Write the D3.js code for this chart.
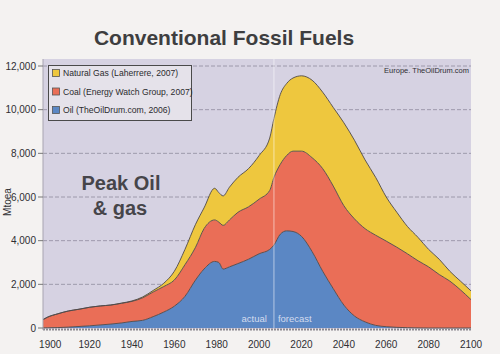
<!DOCTYPE html>
<html>
<head>
<meta charset="utf-8">
<script src="https://d3js.org/d3.v7.min.js"></script>
<style>
body { margin: 0; background: #f4f2f1; }
svg { display: block; font-family: "Liberation Sans", Arial, sans-serif; }
</style>
</head>
<body>
<script>
// values in Mtoe
var years = [1898, 1900, 1905, 1910, 1915, 1920, 1925, 1930, 1935, 1940, 1945, 1950, 1955, 1960, 1965, 1970, 1974, 1979, 1981, 1983, 1986, 1990, 1995, 2000, 2005, 2007, 2010, 2013, 2016, 2020, 2025, 2030, 2035, 2040, 2045, 2050, 2055, 2060, 2065, 2070, 2075, 2080, 2085, 2090, 2095, 2100];
var oil  = [5, 10, 20, 40, 70, 100, 140, 180, 230, 300, 350, 520, 730, 1000, 1450, 2200, 2700, 3050, 3000, 2700, 2800, 2950, 3150, 3400, 3600, 3800, 4300, 4450, 4420, 4200, 3500, 2600, 1800, 1050, 550, 280, 120, 60, 30, 15, 5, 0, 0, 0, 0, 0];
var coal = [380, 480, 630, 740, 790, 850, 870, 870, 900, 920, 1030, 1130, 1170, 1200, 1450, 1500, 1850, 1900, 1850, 2000, 2150, 2350, 2400, 2500, 2700, 3100, 3200, 3450, 3680, 3900, 4300, 4700, 4700, 4550, 4450, 4270, 4130, 3920, 3670, 3385, 3075, 2800, 2450, 2150, 1750, 1300];
var gas  = [0, 0, 0, 0, 0, 0, 0, 5, 10, 20, 40, 70, 150, 400, 700, 1050, 950, 1450, 1350, 1350, 1500, 1600, 1750, 2000, 2400, 2700, 3200, 3300, 3350, 3450, 3550, 3500, 3600, 3800, 3600, 3150, 2650, 2020, 1600, 1250, 1070, 800, 700, 450, 400, 400];

var seriesKeys = ["oil", "coal", "gas"];
var seriesColours = ["#5b87c4", "#ea6e57", "#eec73e"];
var legendLabels = ["Natural Gas (Laherrere, 2007)", "Coal (Energy Watch Group, 2007)", "Oil (TheOilDrum.com, 2006)"];
var legendColours = ["#eec73e", "#ea6e57", "#5b87c4"];

var yTicks = [0, 2000, 4000, 6000, 8000, 10000, 12000];
var xTicks = [1900, 1920, 1940, 1960, 1980, 2000, 2020, 2040, 2060, 2080, 2100];
var forecastYear = 2007;

function init(){
    var w = 500;
    var h = 354;

    var svg = d3.select("body")
                .append("svg")
                .attr("width", w)
                .attr("height", h);

    var x = d3.scaleLinear()
                .domain([1898, 2100])
                .range([43, 471]);

    var y = d3.scaleLinear()
                .domain([0, 12000])
                .range([328, 66]);

    // build rows for the stack
    var rows = years.map(function(yr, i){
        return {year: yr, oil: oil[i], coal: coal[i], gas: gas[i]};
    });

    var stacked = d3.stack().keys(seriesKeys)(rows);

    // title
    svg.append("text")
        .attr("x", 224)
        .attr("y", 45)
        .attr("text-anchor", "middle")
        .attr("font-size", 21)
        .attr("font-weight", "bold")
        .attr("fill", "#3e3e40")
        .text("Conventional Fossil Fuels");

    // plot background
    svg.append("rect")
        .attr("x", 43)
        .attr("y", 59)
        .attr("width", 428)
        .attr("height", 270)
        .attr("fill", "#d6d2e2");

    // dashed grid
    svg.selectAll(".grid")
        .data(yTicks.slice(1))
        .enter()
        .append("line")
        .attr("x1", 43)
        .attr("x2", 471)
        .attr("y1", function(d){ return y(d); })
        .attr("y2", function(d){ return y(d); })
        .attr("stroke", "#8f8b9e")
        .attr("stroke-width", 0.8)
        .attr("stroke-dasharray", "4,2");

    var area = d3.area()
                .x(function(d){ return x(d.data.year); })
                .y0(function(d){ return y(d[0]); })
                .y1(function(d){ return y(d[1]); })
                .curve(d3.curveMonotoneX);

    var topLine = d3.line()
                .x(function(d){ return x(d.data.year); })
                .y(function(d){ return y(d[1]); })
                .curve(d3.curveMonotoneX);

    svg.selectAll(".layer")
        .data(stacked)
        .enter()
        .append("path")
        .attr("d", area)
        .attr("fill", function(d, i){ return seriesColours[i]; });

    svg.selectAll(".edge")
        .data(stacked)
        .enter()
        .append("path")
        .attr("d", topLine)
        .attr("fill", "none")
        .attr("stroke", "#4f4a4a")
        .attr("stroke-width", 0.9);

    // actual / forecast divider
    svg.append("line")
        .attr("x1", x(forecastYear))
        .attr("x2", x(forecastYear))
        .attr("y1", 59)
        .attr("y2", 328)
        .attr("stroke", "#ffffff")
        .attr("stroke-opacity", 0.55)
        .attr("stroke-width", 1);

    svg.append("text")
        .attr("x", x(forecastYear) - 7)
        .attr("y", 322)
        .attr("text-anchor", "end")
        .attr("font-size", 9.5)
        .attr("fill", "#d3dcef")
        .text("actual");

    svg.append("text")
        .attr("x", x(forecastYear) + 4)
        .attr("y", 322)
        .attr("font-size", 9.5)
        .attr("fill", "#d3dcef")
        .text("forecast");

    // bottom axis line
    svg.append("line")
        .attr("x1", 43)
        .attr("x2", 471)
        .attr("y1", 329.5)
        .attr("y2", 329.5)
        .attr("stroke", "#8c8890")
        .attr("stroke-width", 2)
        .attr("stroke-dasharray", "2,1");

    svg.append("line")
        .attr("x1", 43)
        .attr("x2", 43)
        .attr("y1", 59)
        .attr("y2", 330)
        .attr("stroke", "#a8a4b0")
        .attr("stroke-width", 1);

    // y ticks and labels
    svg.selectAll(".ytick")
        .data(yTicks)
        .enter()
        .append("line")
        .attr("x1", 38)
        .attr("x2", 43)
        .attr("y1", function(d){ return y(d); })
        .attr("y2", function(d){ return y(d); })
        .attr("stroke", "#777");

    svg.selectAll(".ylabel")
        .data(yTicks)
        .enter()
        .append("text")
        .attr("x", 36)
        .attr("y", function(d){ return y(d) + 3.5; })
        .attr("text-anchor", "end")
        .attr("font-size", 10)
        .attr("fill", "#2f2f33")
        .text(function(d){ return d3.format(",")(d); });

    svg.selectAll(".xlabel")
        .data(xTicks)
        .enter()
        .append("text")
        .attr("x", function(d){ return x(d) + (d == 1900 ? 3 : 0); })
        .attr("y", 348)
        .attr("text-anchor", "middle")
        .attr("font-size", 10)
        .attr("fill", "#2f2f33")
        .text(function(d){ return d; });

    // y axis title
    svg.append("text")
        .attr("transform", "translate(11,202) rotate(-90)")
        .attr("text-anchor", "middle")
        .attr("font-size", 10)
        .attr("fill", "#2f2f33")
        .text("Mtoea");

    // legend
    var legend = svg.append("g");

    legend.append("rect")
        .attr("x", 48.5)
        .attr("y", 65.5)
        .attr("width", 143)
        .attr("height", 55)
        .attr("fill", "#e5e2ea")
        .attr("stroke", "#4a4a4a")
        .attr("stroke-width", 1);

    var items = legend.selectAll(".item")
        .data(legendLabels)
        .enter()
        .append("g")
        .attr("transform", function(d, i){ return "translate(52," + (73 + i * 18.5) + ")"; });

    items.append("rect")
        .attr("x", 0.5)
        .attr("y", -3.5)
        .attr("width", 7)
        .attr("height", 7)
        .attr("fill", function(d, i){ return legendColours[i]; })
        .attr("stroke", "#555")
        .attr("stroke-width", 0.8);

    items.append("text")
        .attr("x", 11)
        .attr("y", 3.2)
        .attr("font-size", 8.6)
        .attr("fill", "#2b2b2e")
        .text(function(d){ return d; });

    // source and annotation
    svg.append("text")
        .attr("x", 469)
        .attr("y", 73)
        .attr("text-anchor", "end")
        .attr("font-size", 7.5)
        .attr("fill", "#2f2f33")
        .text("Europe. TheOilDrum.com");

    svg.append("text")
        .attr("x", 121)
        .attr("y", 190)
        .attr("text-anchor", "middle")
        .attr("font-size", 20)
        .attr("font-weight", "bold")
        .attr("fill", "#46454a")
        .text("Peak Oil");

    svg.append("text")
        .attr("x", 120)
        .attr("y", 215)
        .attr("text-anchor", "middle")
        .attr("font-size", 20)
        .attr("font-weight", "bold")
        .attr("fill", "#46454a")
        .text("& gas");
}
window.onload = init;
</script>
</body>
</html>
